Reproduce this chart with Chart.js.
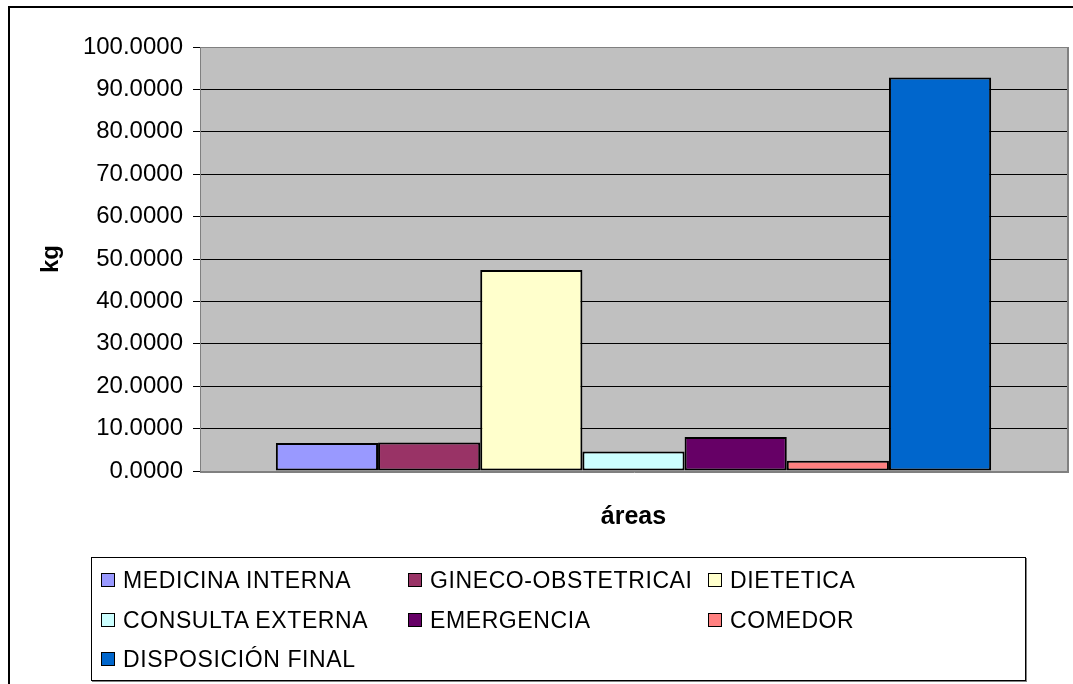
<!DOCTYPE html>
<html>
<head>
<meta charset="utf-8">
<script src="https://cdn.jsdelivr.net/npm/chart.js@4.4.1/dist/chart.umd.min.js"></script>
<style>
  html, body { margin: 0; padding: 0; background: #fff; overflow: hidden; }
  #wrap { position: relative; width: 1073px; height: 684px; }
  #frame {
    position: absolute; left: 8px; top: 6px; width: 1200px; height: 800px;
    border-left: 2px solid #000; border-top: 2px solid #000;
  }
  #poolChart { position: absolute; left: 0; top: 0; }
  #legend {
    position: absolute; left: 91px; top: 557px; width: 933px; height: 122px;
    border: 1px solid #000; box-shadow: 1px 1px 0 #808080; background: #fff;
    font-family: Arial, "Liberation Sans", sans-serif; font-size: 23px; color: #000;
    letter-spacing: 0.6px;
  }
  .item { position: absolute; white-space: nowrap; line-height: 26px; }
  .swatch {
    display: inline-block; width: 12px; height: 12px; border: 1.5px solid #000;
    margin-right: 8px; vertical-align: 1px;
  }
</style>
</head>
<body>
<div id="wrap">
  <div id="frame"></div>
  <canvas id="poolChart" width="1073" height="684"></canvas>
  <div id="legend"></div>
</div>
<script>
// Data
const categories = [''];
const seriesNames = [
  'MEDICINA INTERNA', 'GINECO-OBSTETRICAI', 'DIETETICA',
  'CONSULTA EXTERNA', 'EMERGENCIA', 'COMEDOR', 'DISPOSICIÓN FINAL'
];
const seriesValues = [6.6, 6.7, 47.4, 4.6, 8.0, 2.4, 92.8];
const seriesColors = ['#9999FF', '#993366', '#FFFFCC', '#CCFFFF', '#660066', '#FF8080', '#0066CC'];
const yTicks = [0, 10, 20, 30, 40, 50, 60, 70, 80, 90, 100];

const FONT = 'Arial, "Liberation Sans", sans-serif';

/**
 * Gray plot area with a gray outline, like the Excel original
 */
const plotAreaPlugin = {
  id: 'plotArea',
  beforeDraw: (chart) => {
    const { ctx, chartArea: a } = chart;
    ctx.save();
    ctx.fillStyle = '#C0C0C0';
    ctx.fillRect(a.left, a.top, a.right - a.left, a.bottom - a.top);
    ctx.restore();
  },
  afterDraw: (chart) => {
    const { ctx, chartArea: a } = chart;
    ctx.save();
    ctx.strokeStyle = '#808080';
    ctx.lineWidth = 1;
    ctx.strokeRect(a.left + 0.5, a.top + 0.5, a.right - a.left, a.bottom - a.top);
    ctx.beginPath();
    ctx.moveTo(a.right + 1.5, a.top);
    ctx.lineTo(a.right + 1.5, a.bottom + 2);
    ctx.moveTo(a.left, a.bottom + 1.5);
    ctx.lineTo(a.right + 2, a.bottom + 1.5);
    ctx.stroke();
    ctx.restore();
  }
};

const initializeChart = () => {
  const ctx = document.getElementById('poolChart').getContext('2d');

  const datasets = seriesNames.map((name, i) => ({
    label: name,
    data: [seriesValues[i]],
    backgroundColor: seriesColors[i],
    borderColor: '#000',
    borderWidth: 2,
    borderSkipped: false,
    categoryPercentage: 0.825,
    barPercentage: 1.0
  }));

  return new Chart(ctx, {
    type: 'bar',
    data: { labels: categories, datasets },
    plugins: [plotAreaPlugin],
    options: {
      responsive: false,
      animation: false,
      layout: { padding: { left: 0, top: 47, right: 6, bottom: 143 } },
      plugins: {
        legend: { display: false },
        tooltip: { enabled: false }
      },
      scales: {
        x: {
          grid: { display: false },
          border: { display: false },
          ticks: { display: false },
          title: {
            display: true,
            text: 'áreas',
            color: '#000',
            font: { family: FONT, size: 25, weight: 'bold' },
            padding: { top: 0, bottom: 9 }
          },
          afterFit: (scale) => { scale.height = 70; }
        },
        y: {
          min: 0,
          max: 100,
          afterBuildTicks: (scale) => {
            scale.ticks = yTicks.map(v => ({ value: v }));
          },
          afterFit: (scale) => { scale.width = 200; },
          grid: {
            color: (c) => (c.tick && c.tick.value === 100 ? '#808080' : '#000'),
            tickColor: '#000',
            tickLength: 7,
            lineWidth: 1
          },
          border: { display: true, color: '#808080', width: 1 },
          ticks: {
            color: '#000',
            padding: 10,
            font: { family: FONT, size: 24 },
            callback: (v) => Number(v).toFixed(4)
          },
          title: {
            display: true,
            text: 'kg',
            color: '#000',
            font: { family: FONT, size: 24, weight: 'bold' },
            padding: { top: 37, bottom: 0 }
          }
        }
      }
    }
  });
};

/**
 * Bordered legend box, three columns as in the original
 */
const buildLegend = () => {
  const legend = document.getElementById('legend');
  const colX = [9, 316, 616];
  const rowY = [9, 49, 88];
  seriesNames.forEach((name, i) => {
    const item = document.createElement('div');
    item.className = 'item';
    item.style.left = colX[i % 3] + 'px';
    item.style.top = rowY[Math.floor(i / 3)] + 'px';
    item.innerHTML = `<span class="swatch" style="background:${seriesColors[i]}"></span>${name}`;
    legend.appendChild(item);
  });
};

initializeChart();
buildLegend();
</script>
</body>
</html>
